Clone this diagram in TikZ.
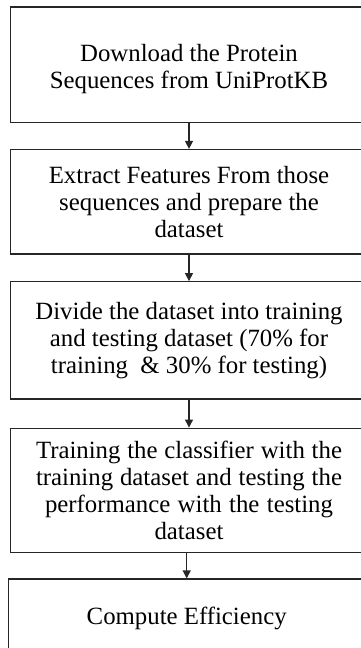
\documentclass[tikz,border=0pt]{standalone}
\usepackage{fontspec}
\setmainfont{Liberation Serif}
\usetikzlibrary{arrows.meta}

\begin{document}
\begin{tikzpicture}[x=1pt, y=-1pt,
    stagebox/.style={draw=black!85, line width=1.2pt, rectangle, inner sep=0pt,
      minimum width=356.6pt, align=center, font=\fontsize{24.8}{27}\selectfont},
    flow/.style={draw=black!85, line width=1.2pt, -{Triangle[length=8pt, width=8pt]}}]
      \useasboundingbox (0, 0) rectangle (361, 648);
      \clip (0, 0) rectangle (361, 648);

      \node[stagebox, minimum height=115.7pt] (download) at (189, 64.85) {};
      \node[align=center, font=\fontsize{24.8}{27}\selectfont] (downloadtext) at (189, 69)
        {Download the Protein\\Sequences from UniProtKB};

      \node[stagebox, minimum height=104.5pt] (extract) at (189, 201.75)
        {Extract Features From those\\sequences and prepare the\\dataset};

      \node[stagebox, minimum height=117.3pt] (divide) at (189, 340.35)
        {Divide the dataset into training\\and testing dataset (70\% for\\training \ \& 30\% for testing)};

      \node[stagebox, minimum height=124.7pt] (train) at (189, 490.5)
        {\makebox[306pt][s]{Training the classifier with the}\\
         \makebox[306pt][s]{training dataset and testing the}\\
         \makebox[288pt][s]{performance with the testing}\\dataset};

      \node[stagebox, minimum height=72pt] (compute) at (186.7, 615) {};
      \node[font=\fontsize{24.8}{27}\selectfont] (computetext) at (186.7, 618)
        {Compute Efficiency};

      \draw[flow] (download) -- (extract);
      \draw[flow] (extract) -- (divide);
      \draw[flow] (divide) -- (train);
      \draw[flow] (compute.north |- train.south) -- (compute);
    \end{tikzpicture}
\end{document}
